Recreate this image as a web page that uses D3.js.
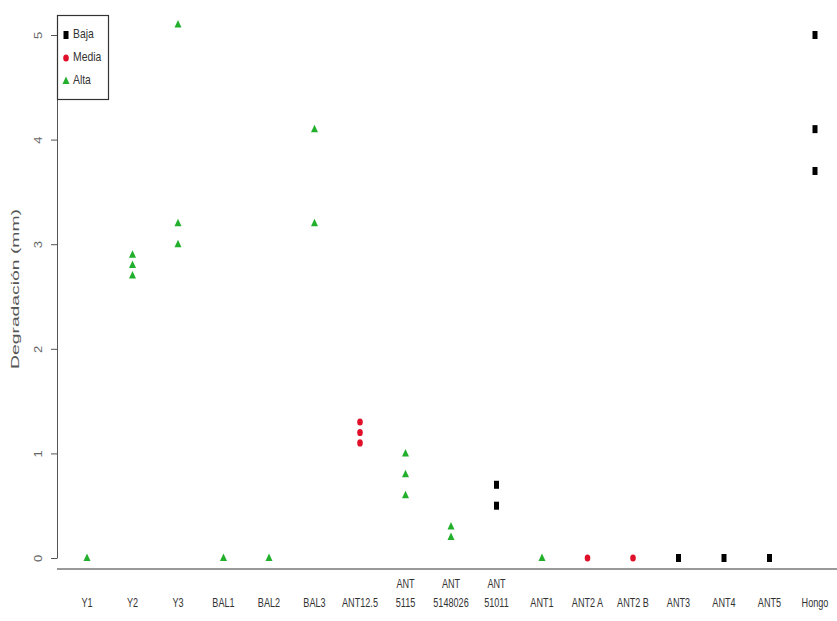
<!DOCTYPE html>
<html>
<head>
<meta charset="utf-8">
<script src="https://cdn.jsdelivr.net/npm/d3@7"></script>
<style>
  body { margin: 0; background: #fff; }
  text { font-family: "Liberation Sans Narrow", "Arial Narrow", "Liberation Sans", sans-serif; fill: #333; }
</style>
</head>
<body>
<svg id="chart" width="837" height="621"></svg>
<script>
// categories along the x axis (labels split on \n)
const categories = ["Y1", "Y2", "Y3", "BAL1", "BAL2", "BAL3", "ANT12.5", "ANT\n5115", "ANT\n5148026",
  "ANT\n51011", "ANT1", "ANT2 A", "ANT2 B", "ANT3", "ANT4", "ANT5", "Hongo"];

// points per group: [category index, value]
const baja = [[9, 0.7], [9, 0.5], [13, 0], [14, 0], [15, 0], [16, 5.0], [16, 4.1], [16, 3.7]];
const media = [[6, 1.3], [6, 1.2], [6, 1.1], [11, 0], [12, 0]];
const alta = [[0, 0], [1, 2.9], [1, 2.8], [1, 2.7], [2, 5.1], [2, 3.2], [2, 3.0], [3, 0], [4, 0],
  [5, 4.1], [5, 3.2], [7, 1.0], [7, 0.8], [7, 0.6], [8, 0.3], [8, 0.2], [10, 0]];

const yTicks = [0, 1, 2, 3, 4, 5];
const legendLabels = ["Baja", "Media", "Alta"];

const width = 837, height = 621;
const svg = d3.select("#chart");

const x = d3.scalePoint()
  .domain(d3.range(categories.length))
  .range([87, 815]);
const y = d3.scaleLinear()
  .domain([0, 5])
  .range([558, 35]);

// y axis
const yAxis = svg.append("g")
  .attr("transform", "translate(57,0)")
  .call(d3.axisLeft(y).tickValues(yTicks).tickSize(6).tickSizeOuter(0).tickFormat(d3.format("d")));
yAxis.select(".domain").attr("stroke", "#555");
yAxis.selectAll(".tick line").attr("stroke", "#555");
yAxis.selectAll(".tick text")
  .attr("x", 0).attr("dy", null)
  .attr("transform", "translate(-18,0) rotate(-90) scale(1.3,1)")
  .attr("text-anchor", "middle")
  .attr("dominant-baseline", "middle")
  .style("font-size", "10px")
  .style("fill", "#666");

svg.append("text")
  .attr("transform", "translate(16,289) rotate(-90)")
  .attr("text-anchor", "middle")
  .attr("dominant-baseline", "middle")
  .attr("textLength", 160)
  .attr("lengthAdjust", "spacingAndGlyphs")
  .style("font-family", "'Liberation Sans', Arial, sans-serif")
  .style("font-size", "11px")
  .style("fill", "#555")
  .text("Degradación (mm)");

// bottom line
svg.append("line")
  .attr("x1", 57).attr("x2", width)
  .attr("y1", 569).attr("y2", 569)
  .attr("stroke", "#777").attr("stroke-width", 1.5);

// x labels
const xl = svg.append("g").selectAll("text")
  .data(categories)
  .join("text")
  .attr("x", (d, i) => x(i))
  .attr("y", 607)
  .attr("text-anchor", "middle")
  .style("font-size", "13px")
  .attr("transform", (d, i) => `translate(${x(i)},0) scale(0.7,1) translate(${-x(i)},0)`);
xl.each(function(d, i) {
  const lines = d.split("\n");
  d3.select(this).selectAll("tspan")
    .data(lines)
    .join("tspan")
    .attr("x", x(i))
    .attr("dy", (l, j) => j === 0 ? -(lines.length - 1) * 19 : 19)
    .text(l => l);
});

// marker drawers
const drawBaja = (g, cx, cy) => g.append("rect")
  .attr("x", cx - 2.5).attr("y", cy - 4).attr("width", 5).attr("height", 8)
  .attr("fill", "#000");
const drawMedia = (g, cx, cy) => g.append("ellipse")
  .attr("cx", cx).attr("cy", cy).attr("rx", 2.8).attr("ry", 3.6)
  .attr("fill", "#e0102a");
const drawAlta = (g, cx, cy) => g.append("path")
  .attr("d", `M${cx},${cy - 4.5}L${cx + 3.5},${cy + 3}L${cx - 3.5},${cy + 3}Z`)
  .attr("fill", "#22b02c");

const pts = svg.append("g");
baja.forEach(([c, v]) => drawBaja(pts, x(c), y(v)));
media.forEach(([c, v]) => drawMedia(pts, x(c), y(v)));
alta.forEach(([c, v]) => drawAlta(pts, x(c), y(v)));

// legend
const lg = svg.append("g");
lg.append("rect")
  .attr("x", 57.5).attr("y", 15.5).attr("width", 51).attr("height", 84)
  .attr("fill", "#fff").attr("stroke", "#333").attr("stroke-width", 1.2);
const drawers = [drawBaja, drawMedia, drawAlta];
legendLabels.forEach((lab, i) => {
  const cy = 35 + i * 23;
  drawers[i](lg, 66, cy);
  lg.append("text")
    .attr("x", 73).attr("y", cy)
    .attr("dominant-baseline", "middle")
    .attr("transform", `translate(73,0) scale(0.8,1) translate(-73,0)`)
    .style("font-size", "13px")
    .text(lab);
});
</script>
</body>
</html>
